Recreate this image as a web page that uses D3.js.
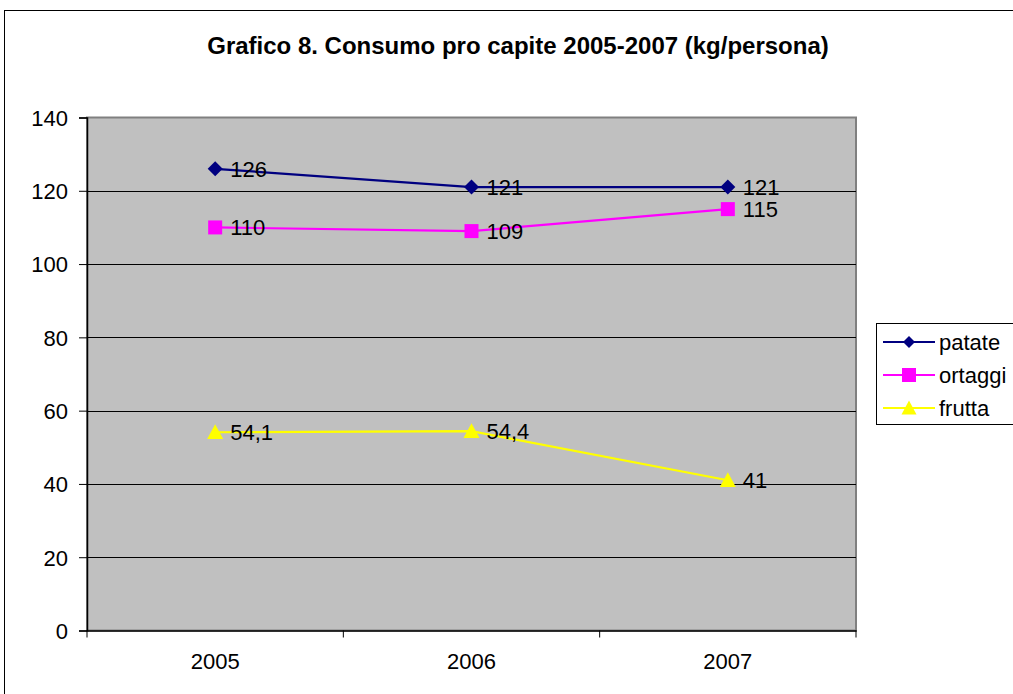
<!DOCTYPE html>
<html><head><meta charset="utf-8">
<script src="https://cdn.jsdelivr.net/npm/d3@7"></script>
<style>body{margin:0;background:#fff}svg{display:block;font-family:"Liberation Sans",Arial,sans-serif}</style>
</head><body>
<script>
const categories = ["2005","2006","2007"];
const patate = [126,121,121];
const ortaggi = [110,109,115];
const frutta = [54.1,54.4,41];
const labelsPatate = ["126","121","121"];
const labelsOrtaggi = ["110","109","115"];
const labelsFrutta = ["54,1","54,4","41"];
const yTicks = [0,20,40,60,80,100,120,140];
const title = "Grafico 8. Consumo pro capite 2005-2007 (kg/persona)";

const W=1013,H=694;
const FONT="Liberation Sans, Arial, sans-serif";
const svg=d3.select("body").append("svg").attr("width",W).attr("height",H);
svg.append("rect").attr("x",4.5).attr("y",10.5).attr("width",1020).attr("height",700).attr("fill","#fff").attr("stroke","#000");
svg.append("text").attr("x",518).attr("y",54).attr("text-anchor","middle").attr("font-weight","bold").attr("font-size",24).text(title);

const L=87,R=856,T=117.5,B=630.5;
const x=d3.scaleBand().domain(categories).range([L,R]);
const y=d3.scaleLinear().domain([0,140]).range([B,T]);
svg.append("rect").attr("x",L).attr("y",T).attr("width",R-L).attr("height",B-T).attr("fill","#c0c0c0").attr("stroke","#808080").attr("stroke-width",2);
svg.append("g").selectAll("line").data(yTicks.filter(d=>d>0&&d<140)).join("line")
 .attr("x1",L).attr("x2",R).attr("y1",d=>Math.round(y(d))+0.5).attr("y2",d=>Math.round(y(d))+0.5).attr("stroke","#000");

const ya=svg.append("g").attr("transform",`translate(${L},0)`).call(d3.axisLeft(y).tickValues(yTicks).tickSize(8).tickPadding(11).tickFormat(d3.format("d")));
ya.select(".domain").attr("stroke","#000").attr("stroke-width",1.5);
ya.selectAll("text").attr("font-size",22).attr("fill","#000").attr("dy","0.36em").style("font-family",FONT);
const xa=svg.append("g").attr("transform",`translate(0,${B})`).call(d3.axisBottom(x).tickSize(0).tickPadding(22));
xa.select(".domain").attr("stroke","#000").attr("stroke-width",1.5);
xa.selectAll("text").attr("font-size",22).attr("fill","#000").attr("dy","0.71em").attr("y",23).style("font-family",FONT);
svg.append("g").selectAll("line").data(categories.map(c=>x(c)).concat([R])).join("line")
 .attr("x1",d=>d).attr("x2",d=>d).attr("y1",B).attr("y2",B+7).attr("stroke","#000");

const cx=c=>x(c)+x.bandwidth()/2;
const diamond=r=>`M0,${-r}L${r},0L0,${r}L${-r},0Z`;
const square=r=>`M${-r},${-r}H${r}V${r}H${-r}Z`;
const triangle=r=>`M0,${-r}L${r},${r*0.85}H${-r}Z`;
const series=[
 {name:"patate",vals:patate,labels:labelsPatate,color:"#000080",shape:diamond,r:7.5,lr:6},
 {name:"ortaggi",vals:ortaggi,labels:labelsOrtaggi,color:"#ff00ff",shape:square,r:7,lr:7},
 {name:"frutta",vals:frutta,labels:labelsFrutta,color:"#ffff00",shape:triangle,r:8,lr:7.5}
];
const line=d3.line().x((d,i)=>cx(categories[i])).y(d=>y(d));
series.forEach(s=>{
 svg.append("path").attr("d",line(s.vals)).attr("fill","none").attr("stroke",s.color).attr("stroke-width",2.2);
 svg.append("g").selectAll("path").data(s.vals).join("path")
  .attr("transform",(d,i)=>`translate(${cx(categories[i])},${y(d)})`)
  .attr("d",s.shape(s.r)).attr("fill",s.color);
 svg.append("g").selectAll("text").data(s.vals).join("text")
  .attr("x",(d,i)=>cx(categories[i])+15).attr("y",d=>y(d)).attr("dy","0.36em").attr("font-size",22).text((d,i)=>s.labels[i]);
});

const lg=svg.append("g");
lg.append("rect").attr("x",876.5).attr("y",323.5).attr("width",140).attr("height",101).attr("fill","#fff").attr("stroke","#000");
series.forEach((s,i)=>{
 const yy=342+i*33;
 lg.append("line").attr("x1",883).attr("x2",935).attr("y1",yy).attr("y2",yy).attr("stroke",s.color).attr("stroke-width",2.2);
 lg.append("path").attr("transform",`translate(909,${yy})`).attr("d",s.shape(s.lr)).attr("fill",s.color);
 lg.append("text").attr("x",939).attr("y",yy).attr("dy","0.36em").attr("font-size",22).text(s.name);
});
</script>
</body></html>
